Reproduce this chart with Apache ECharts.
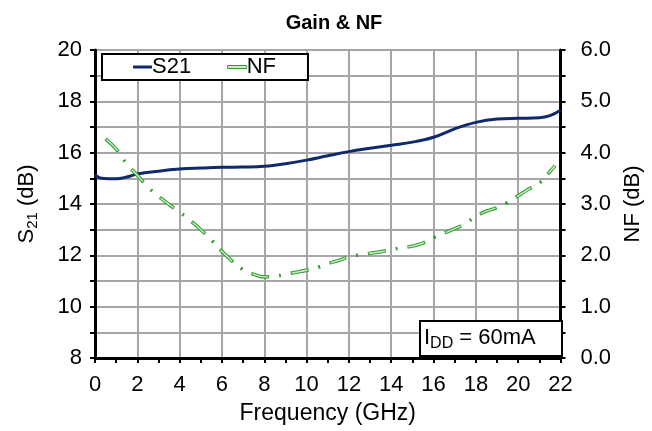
<!DOCTYPE html>
<html>
<head>
<meta charset="utf-8">
<script src="https://cdn.jsdelivr.net/npm/echarts@6/dist/echarts.min.js"></script>
<style>
html,body{margin:0;padding:0;background:#fff;}
#chart{width:652px;height:431px;}
</style>
</head>
<body>
<div id="chart"></div>
<script>
// Frequency (GHz) and S21 (dB)
var s21Freq = [0, 0.3, 1, 1.5, 2, 3, 4, 5, 6, 7, 8, 9, 10, 11, 12, 13, 14, 15, 16, 17, 18, 19, 20, 21, 21.5, 22];
var s21Vals = [15.13, 15.0, 14.98, 15.05, 15.17, 15.28, 15.36, 15.40, 15.43, 15.44, 15.47, 15.57, 15.71, 15.88, 16.04, 16.17, 16.29, 16.41, 16.60, 16.93, 17.18, 17.31, 17.34, 17.36, 17.44, 17.65];
// Frequency (GHz) and NF (dB)
var nfFreq = [0.5, 1, 1.5, 2, 2.5, 3, 3.5, 4, 4.5, 5, 5.5, 6, 6.5, 7, 7.5, 8, 8.5, 9, 9.5, 10, 10.5, 11, 11.5, 12, 12.5, 13, 13.5, 14, 14.5, 15, 15.5, 16, 16.5, 17, 17.5, 18, 18.5, 19, 19.5, 20, 20.5, 21, 21.5, 21.75];
var nfVals = [4.27, 4.07, 3.78, 3.56, 3.33, 3.15, 2.99, 2.84, 2.68, 2.50, 2.30, 2.08, 1.88, 1.72, 1.63, 1.58, 1.59, 1.63, 1.67, 1.71, 1.76, 1.84, 1.90, 1.97, 2.01, 2.04, 2.07, 2.11, 2.15, 2.18, 2.24, 2.34, 2.43, 2.52, 2.62, 2.76, 2.86, 2.93, 3.03, 3.16, 3.29, 3.41, 3.63, 3.75];
var xTicks = {min: 0, max: 22, step: 2};
var leftTicks = {min: 8, max: 20, step: 2};
var rightTicks = {min: 0, max: 6, step: 1};

function pairs(xs, ys) { return xs.map(function (x, i) { return [x, ys[i]]; }); }

var FONT = '"Liberation Sans", Arial, sans-serif';
var NAVY = '#0f2a6b';
var GREEN = '#2f9e2f';
var GREEN_IN = '#cfeac9';
var chart = echarts.init(document.getElementById('chart'), null, {renderer: 'canvas'});
var option = {
  backgroundColor: '#ffffff',
  animation: false,
  textStyle: {fontFamily: FONT},
  title: {
    text: 'Gain & NF',
    left: 329, top: 8, textAlign: 'center',
    textStyle: {fontFamily: FONT, fontSize: 20, fontWeight: 'bold', color: '#000'}
  },
  legend: {
    data: [
      {name: 'S21', icon: 'rect', itemStyle: {color: NAVY, borderWidth: 0}},
      {name: 'NF', icon: 'rect', itemStyle: {color: GREEN_IN, borderColor: GREEN, borderWidth: 1}}
    ],
    left: 102, top: 54,
    padding: [2, 32, 2, 31],
    itemGap: 36,
    itemWidth: 19, itemHeight: 3,
    borderColor: '#000', borderWidth: 2,
    backgroundColor: '#fff',
    textStyle: {fontFamily: FONT, fontSize: 22, color: '#000', padding: [0, 0, 0, -5]}
  },
  grid: {
    left: 95, right: 89, top: 50, bottom: 73,
    show: true, borderColor: '#000', borderWidth: 2, backgroundColor: 'transparent'
  },
  xAxis: {
    type: 'value', min: xTicks.min, max: xTicks.max, interval: xTicks.step,
    name: 'Frequency (GHz)', nameLocation: 'middle', nameGap: 44,
    nameTextStyle: {fontFamily: FONT, fontSize: 23, color: '#000'},
    axisLine: {show: true, onZero: false, lineStyle: {color: '#000', width: 3}},
    axisTick: {show: true, inside: false, length: 5, lineStyle: {color: '#000', width: 2}},
    minorTick: {show: true, splitNumber: 2, length: 5, lineStyle: {color: '#000', width: 2}},
    axisLabel: {fontFamily: FONT, fontSize: 22, color: '#000', margin: 16},
    splitLine: {show: true, lineStyle: {color: '#a6a6a6', width: 2}}
  },
  yAxis: [{
    type: 'value', position: 'left', min: leftTicks.min, max: leftTicks.max, interval: leftTicks.step,
    name: '{n|S}{s|21}{n| (dB)}', nameLocation: 'middle', nameGap: 55, nameRotate: 90,
    nameTextStyle: {
      fontFamily: FONT, fontSize: 22, color: '#000',
      rich: {
        n: {fontFamily: FONT, fontSize: 22, color: '#000'},
        s: {fontFamily: FONT, fontSize: 15, color: '#000', verticalAlign: 'bottom', padding: [12, 0, 0, 0]}
      }
    },
    axisLine: {show: true, onZero: false, lineStyle: {color: '#000', width: 3}},
    axisTick: {show: true, inside: false, length: 5, lineStyle: {color: '#000', width: 2}},
    minorTick: {show: true, splitNumber: 2, length: 5, lineStyle: {color: '#000', width: 2}},
    axisLabel: {fontFamily: FONT, fontSize: 22, color: '#000', margin: 13},
    splitLine: {show: true, lineStyle: {color: '#a6a6a6', width: 2}},
    minorSplitLine: {show: true, lineStyle: {color: '#a6a6a6', width: 2}}
  }, {
    type: 'value', position: 'right', min: rightTicks.min, max: rightTicks.max, interval: rightTicks.step,
    name: 'NF (dB)', nameLocation: 'middle', nameGap: 56, nameRotate: 90,
    nameTextStyle: {fontFamily: FONT, fontSize: 22, color: '#000'},
    axisLine: {show: true, onZero: false, lineStyle: {color: '#000', width: 3}},
    axisTick: {show: true, inside: false, length: 5, lineStyle: {color: '#000', width: 2}},
    minorTick: {show: true, splitNumber: 2, length: 5, lineStyle: {color: '#000', width: 2}},
    axisLabel: {fontFamily: FONT, fontSize: 22, color: '#000', margin: 20,
      formatter: function (v) { return v.toFixed(1); }},
    splitLine: {show: false}
  }],
  series: [{
    name: 'S21', type: 'line', yAxisIndex: 0,
    data: pairs(s21Freq, s21Vals),
    smooth: 0.4, showSymbol: false, symbol: 'none',
    lineStyle: {color: NAVY, width: 3},
    itemStyle: {color: NAVY},
    z: 3
  }, {
    name: 'NF', type: 'line', yAxisIndex: 1,
    data: pairs(nfFreq, nfVals),
    smooth: 0.4, showSymbol: false, symbol: 'none',
    lineStyle: {color: GREEN, width: 3.5, type: [18, 10, 2, 10], cap: 'butt'},
    itemStyle: {color: GREEN},
    z: 4
  }, {
    name: 'NF-inner', type: 'line', yAxisIndex: 1,
    data: pairs(nfFreq, nfVals),
    smooth: 0.4, showSymbol: false, symbol: 'none',
    lineStyle: {color: GREEN_IN, width: 1.4, type: [16, 24], dashOffset: -1, cap: 'butt'},
    itemStyle: {color: GREEN_IN},
    tooltip: {show: false},
    z: 5
  }],
  graphic: [{
    type: 'group', left: 419, top: 320, z: 100,
    children: [{
      type: 'rect', shape: {x: 0, y: 0, width: 142, height: 35}, z: 100,
      style: {fill: '#fff', stroke: '#000', lineWidth: 2}
    }, {
      type: 'text', x: 4, y: 3, z: 101,
      style: {
        text: '{a|I}{b|DD}{a| = 60mA}',
        rich: {
          a: {fontFamily: FONT, fontSize: 22, fill: '#000'},
          b: {fontFamily: FONT, fontSize: 16, fill: '#000', padding: [12, 0, 0, 0]}
        }
      }
    }]
  }]
};
chart.setOption(option);
</script>
</body>
</html>
